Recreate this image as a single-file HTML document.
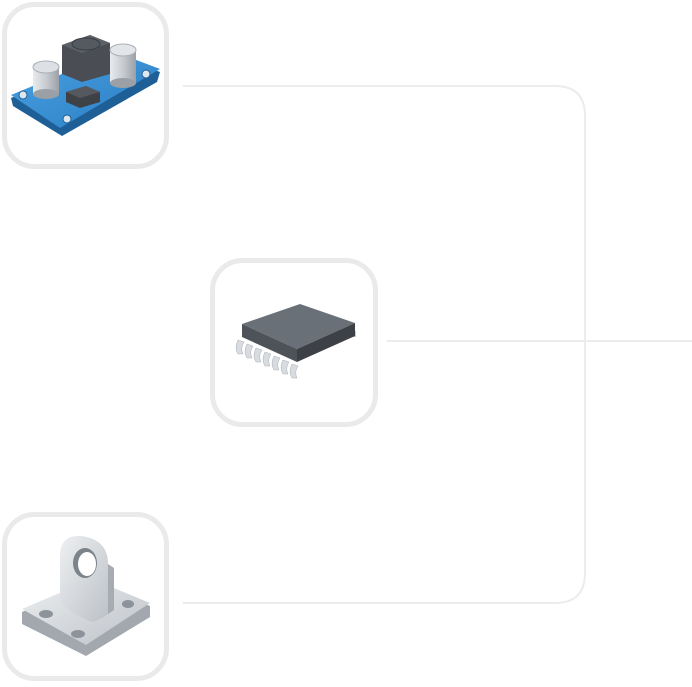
<!DOCTYPE html>
<html><head><meta charset="utf-8"><style>html,body{margin:0;padding:0;background:#fff;}svg{display:block}</style></head>
<body>
<svg width="692" height="687" viewBox="0 0 692 687" xmlns="http://www.w3.org/2000/svg">
<defs>
<linearGradient id="pcb" x1="0" y1="0" x2="1" y2="1"><stop offset="0" stop-color="#4aa3e0"/><stop offset="1" stop-color="#2a7cc4"/></linearGradient>
<linearGradient id="cap" x1="0" y1="0" x2="1" y2="0"><stop offset="0" stop-color="#e8ebee"/><stop offset="0.5" stop-color="#c8ccd1"/><stop offset="1" stop-color="#9aa0a6"/></linearGradient>
<linearGradient id="metal" x1="0" y1="0" x2="1" y2="1"><stop offset="0" stop-color="#eef0f2"/><stop offset="1" stop-color="#bcc1c6"/></linearGradient>
</defs>
<path d="M183 86 H555 Q585 86 585 116 V573 Q585 603 555 603 H183" fill="none" stroke="#ececec" stroke-width="2"/>
<path d="M387 341 H692" fill="none" stroke="#ececec" stroke-width="2"/>
<rect x="4.5" y="4.5" width="162" height="162" rx="30" fill="#fff" stroke="#eaeaea" stroke-width="5"/>
<rect x="212.5" y="260.5" width="163" height="164" rx="30" fill="#fff" stroke="#eaeaea" stroke-width="5"/>
<rect x="4.5" y="514.5" width="162" height="164" rx="30" fill="#fff" stroke="#eaeaea" stroke-width="5"/>
<!-- PCB -->
<g>
<polygon points="11,98 115,55 160,72 157,82 62,136 13,106" fill="#1f5f98"/>
<polygon points="11,95 115,52 160,69 60,128" fill="url(#pcb)"/>
<circle cx="23" cy="95" r="4" fill="#dfe7ee" stroke="#1f5f98"/>
<circle cx="67" cy="119" r="4" fill="#dfe7ee" stroke="#1f5f98"/>
<circle cx="146" cy="74" r="4" fill="#dfe7ee" stroke="#1f5f98"/>
<rect x="33" y="67" width="26" height="27" fill="url(#cap)"/>
<ellipse cx="46" cy="94" rx="13" ry="5" fill="#9aa0a6"/>
<ellipse cx="46" cy="67" rx="13" ry="6" fill="#dde1e5" stroke="#aab0b6"/>
<polygon points="62,45 90,35 110,43 110,74 82,82 62,74" fill="#4a4e54"/>
<polygon points="62,45 90,35 110,43 82,53" fill="#5c6168"/>
<ellipse cx="86" cy="44" rx="14" ry="6" fill="#555a60" stroke="#3a3e43"/>
<rect x="110" y="50" width="26" height="33" fill="url(#cap)"/>
<ellipse cx="123" cy="83" rx="13" ry="5" fill="#9aa0a6"/>
<ellipse cx="123" cy="50" rx="13" ry="6" fill="#e3e6e9" stroke="#aab0b6"/>
<polygon points="66,92 86,86 100,92 100,102 80,108 66,102" fill="#3e4247"/>
<polygon points="66,92 86,86 100,92 80,98" fill="#55595f"/>
</g>
<!-- chip -->
<g>
<g fill="#c9cdd2">
<rect x="304" y="313" width="4" height="6"/><rect x="312" y="316" width="4" height="6"/><rect x="320" y="319" width="4" height="6"/><rect x="328" y="322" width="4" height="6"/><rect x="336" y="325" width="4" height="6"/><rect x="344" y="328" width="4" height="6"/><rect x="352" y="331" width="4" height="6"/>
</g>
<polygon points="242,324 300,304 355,323 297,349" fill="#6a7077"/>
<polygon points="242,324 297,349 297,362 242,337" fill="#4e5359"/>
<polygon points="297,349 355,323 355,336 297,362" fill="#3d4146"/>
<g fill="#d8dce0" stroke="#aab0b6" stroke-width="0.5">
<path d="M238 340 q-4 8 0 14 h5 q-3 -6 1 -12z"/><path d="M247 344 q-4 8 0 14 h5 q-3 -6 1 -12z"/><path d="M256 348 q-4 8 0 14 h5 q-3 -6 1 -12z"/><path d="M265 352 q-4 8 0 14 h5 q-3 -6 1 -12z"/><path d="M274 356 q-4 8 0 14 h5 q-3 -6 1 -12z"/><path d="M283 360 q-4 8 0 14 h5 q-3 -6 1 -12z"/><path d="M292 364 q-4 8 0 14 h5 q-3 -6 1 -12z"/>
</g>
</g>
<!-- bracket -->
<g>
<polygon points="22,612 92,582 150,606 150,617 86,656 22,624" fill="#a2a8ae"/>
<polygon points="22,609 92,579 150,603 86,645" fill="url(#metal)"/>
<ellipse cx="46" cy="614" rx="7" ry="4" fill="#8d939a"/>
<ellipse cx="78" cy="634" rx="7" ry="4" fill="#8d939a"/>
<ellipse cx="128" cy="604" rx="6" ry="4" fill="#8d939a"/>
<path d="M60 600 V556 Q60 534 82 536 Q108 540 108 564 V614 Q100 620 92 622 Q66 612 60 600Z" fill="url(#metal)"/>
<path d="M108 564 V614 L114 610 V568Z" fill="#a6acb2"/>
<ellipse cx="85" cy="563" rx="12" ry="15" fill="#7c838a"/>
<ellipse cx="87" cy="564" rx="9" ry="12" fill="#fff"/>
</g>
</svg>
</body></html>
